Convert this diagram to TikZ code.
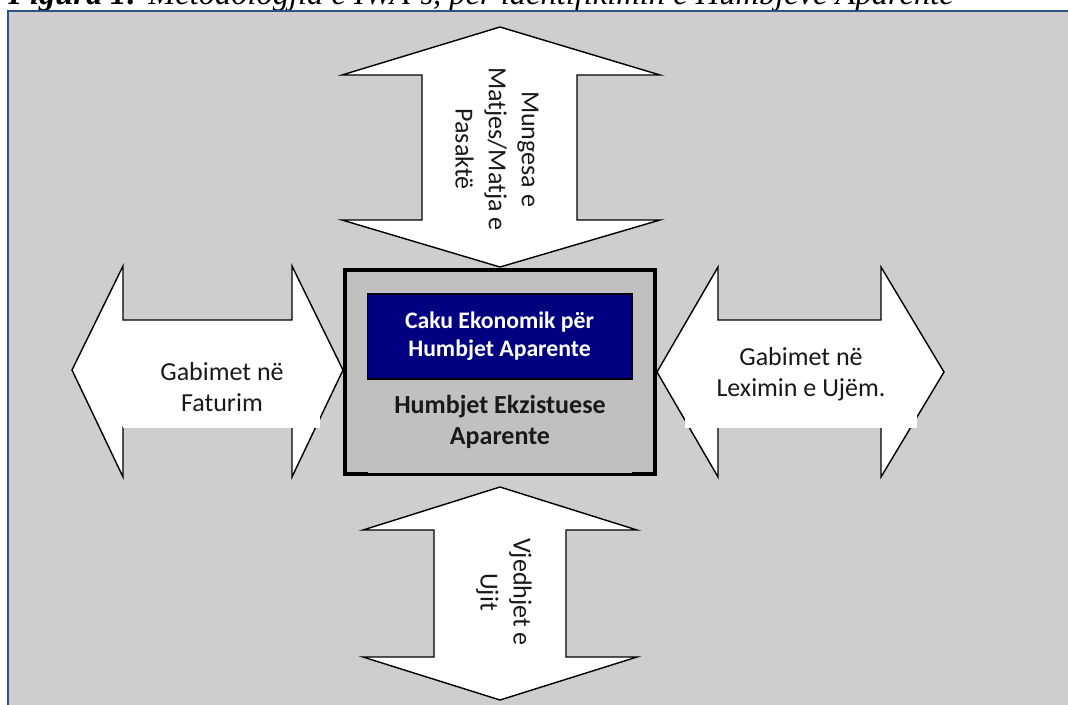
\documentclass[tikz,border=0pt]{standalone}
\usepackage{fontspec}
\setmainfont{Carlito}
\newfontfamily\titlefont{Liberation Serif}
\usepackage[]{xcolor}
\definecolor{paneGray}{HTML}{CFCDCE}
\definecolor{frameBlue}{HTML}{2B5385}
\definecolor{boxGray}{HTML}{C0C0C0}
\definecolor{capNavy}{HTML}{000080}

\begin{document}
\begin{tikzpicture}[x=0.02cm, y=-0.02cm,
 	blockarrow/.style={draw=black, fill=white, line width=0.8pt, line join=miter},
 	label/.style={align=center, inner sep=0pt, text=black!90, font=\fontsize{14.8}{17.6}\selectfont},
 	sidelabel/.style={label, rotate=-90, font=\fontsize{14.8}{18.8}\selectfont}]
 	\useasboundingbox (0,0) rectangle (1068,704);
 	\clip (0,0) rectangle (1068,704);
 	\fill[white] (0,0) rectangle (1068,704);
 	\node[anchor=base west, inner sep=0pt, font=\titlefont\fontsize{18.5}{20}\selectfont] (Title) at (8,4) {\textbf{\textit{Figura 1:}} \textit{Metodologjia e IWA-s, për identifikimin e Humbjeve Aparente}};
 	\filldraw[fill=paneGray, draw=frameBlue, line width=1.1pt] (8,11) rectangle (1090,730);
 	\draw[blockarrow] (500,27) -- (660,75) -- (577,75) -- (577,220) -- (660,220) -- (500,267) -- (342,220) -- (422,220) -- (422,75) -- (342,75) -- cycle;
 	\draw[blockarrow] (500,487) -- (637,530) -- (566,530) -- (566,657) -- (637,657) -- (500,700) -- (363,657) -- (434,657) -- (434,530) -- (363,530) -- cycle;
 	\draw[blockarrow] (72,370) -- (123,266) -- (123,320) -- (292,320) -- (292,266) -- (343,370) -- (292,477) -- (292,427) -- (123,427) -- (123,477) -- cycle;
 	\draw[blockarrow] (657,372) -- (718,267) -- (718,320) -- (881,320) -- (881,267) -- (944,372) -- (881,477) -- (881,427) -- (718,427) -- (718,477) -- cycle;
 	\fill[white] (123,347) rectangle (320,428.3);
 	\fill[white] (685,335) rectangle (917,428.3);
 	\node[label] (Fatur) at (222,387) {Gabimet në\\Faturim};
 	\node[label] (Lexim) at (801,374) {Gabimet në\\Leximin e Ujëm.};
 	\node[sidelabel] (Munges) at (497,149) {Mungesa e\\Matjes/Matja e\\Pasaktë};
 	\node[sidelabel] (Vjedh) at (504,592) {Vjedhjet e\\Ujit};
 	\node[draw, line width=2.5pt, fill=boxGray, minimum width=6.2cm, minimum height=4.08cm, inner sep=0pt] (Humb) at (500,372) {};
 	\fill[boxGray] (368,385) rectangle (632,473);
 	\node[draw, line width=0.6pt, fill=capNavy, text=white, align=center, inner sep=0pt, minimum width=5.3cm, minimum height=1.7cm, font=\bfseries\fontsize{13.5}{15.9}\selectfont] (Caku) at (499.5,336.5) {Caku Ekonomik për\\Humbjet Aparente};
 	\node[label, font=\bfseries\fontsize{14.8}{17.6}\selectfont] (Ekzist) at (500,422) {Humbjet Ekzistuese\\Aparente};
 	\end{tikzpicture}
\end{document}
